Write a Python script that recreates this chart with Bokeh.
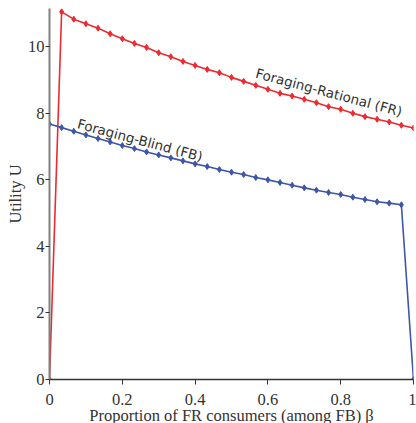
import numpy as np
from bokeh.plotting import figure
from bokeh.models import Range1d, ColumnDataSource
from bokeh.core.properties import value
from bokeh.embed import file_html
from bokeh.resources import INLINE

# data (beta = k/30, k = 0..30)
beta = [k / 30 for k in range(31)]
u_fr = [0.0, 11.05, 10.83, 10.69, 10.56, 10.39, 10.24, 10.10, 9.98, 9.82, 9.70,
        9.56, 9.44, 9.32, 9.22, 9.08, 8.96, 8.84, 8.72, 8.60, 8.52,
        8.42, 8.32, 8.20, 8.12, 8.00, 7.90, 7.82, 7.74, 7.64, 7.56]
u_fb = [7.68, 7.57, 7.46, 7.35, 7.24, 7.14, 7.03, 6.94, 6.84, 6.75, 6.66,
        6.57, 6.48, 6.40, 6.31, 6.23, 6.16, 6.07, 6.00, 5.92, 5.84,
        5.76, 5.69, 5.62, 5.56, 5.48, 5.41, 5.34, 5.30, 5.25, 0.0]
x_ticks = [0, 0.2, 0.4, 0.6, 0.8, 1]
y_ticks = [0, 2, 4, 6, 8, 10]
label_fr = "Foraging-Rational (FR)"
label_fb = "Foraging-Blind (FB)"

RED = "#ec2a2f"
BLUE = "#3c56a8"

p = figure(frame_width=364, frame_height=371, output_backend="svg", toolbar_location=None,
           x_range=Range1d(0, 1), y_range=Range1d(0, 11.15),
           min_border_left=49, min_border_right=3, min_border_top=8, min_border_bottom=44)
p.outline_line_color = None
p.xgrid.visible = False
p.ygrid.visible = False

src = ColumnDataSource(dict(x=beta, fr=u_fr, fb=u_fb))
p.line("x", "fr", source=src, line_color=RED, line_width=1.6)
p.scatter("x", "fr", source=src, marker="diamond", size=6, color=RED)
p.line("x", "fb", source=src, line_color=BLUE, line_width=1.6)
p.scatter("x", "fb", source=src, marker="diamond", size=6, color=BLUE)

ang = -15 * np.pi / 180
p.text(x=[0.5675], y=[9.22], text=[label_fr], angle=ang,
       text_font=value("DejaVu Sans"), text_font_size="13.5px", text_color="#333333",
       text_align="left", text_baseline="alphabetic")
p.text(x=[0.0776], y=[7.70], text=[label_fb], angle=ang,
       text_font=value("DejaVu Sans"), text_font_size="13.5px", text_color="#333333",
       text_align="left", text_baseline="alphabetic")

for ax in (p.xaxis[0], p.yaxis[0]):
    ax.major_label_text_font = "Liberation Serif"
    ax.major_label_text_font_size = "16.5px"
    ax.major_label_text_color = "#333333"
    ax.axis_label_text_font = "Liberation Serif"
    ax.axis_label_text_font_size = "16.5px"
    ax.axis_label_text_font_style = "normal"
    ax.axis_label_text_color = "#333333"
    ax.major_tick_line_color = "#333333"
    ax.minor_tick_line_color = "#333333"

p.xaxis.ticker = x_ticks
p.yaxis.ticker = y_ticks
p.xaxis.ticker.num_minor_ticks = 2
p.yaxis.ticker.num_minor_ticks = 2
p.xaxis.major_label_overrides = {0: "0", 1: "1"}
p.xaxis.axis_label = "Proportion of FR consumers (among FB) β"
p.yaxis.axis_label = "Utility U"
p.xaxis.axis_line_color = "#333333"
p.xaxis.axis_line_width = 1.5
p.yaxis.axis_line_color = "#808080"
p.yaxis.axis_line_width = 2
p.xaxis.major_tick_out = 5
p.xaxis.major_tick_in = 0
p.xaxis.minor_tick_in = 3
p.xaxis.minor_tick_out = 0
p.yaxis.major_tick_out = 4
p.yaxis.major_tick_in = 0
p.yaxis.minor_tick_out = 3
p.yaxis.minor_tick_in = 0
p.xaxis.major_label_standoff = 9
p.yaxis.major_label_standoff = 1
p.xaxis.axis_label_standoff = -2
p.yaxis.axis_label_standoff = 0

open("out.html", "w").write(file_html(p, INLINE))
